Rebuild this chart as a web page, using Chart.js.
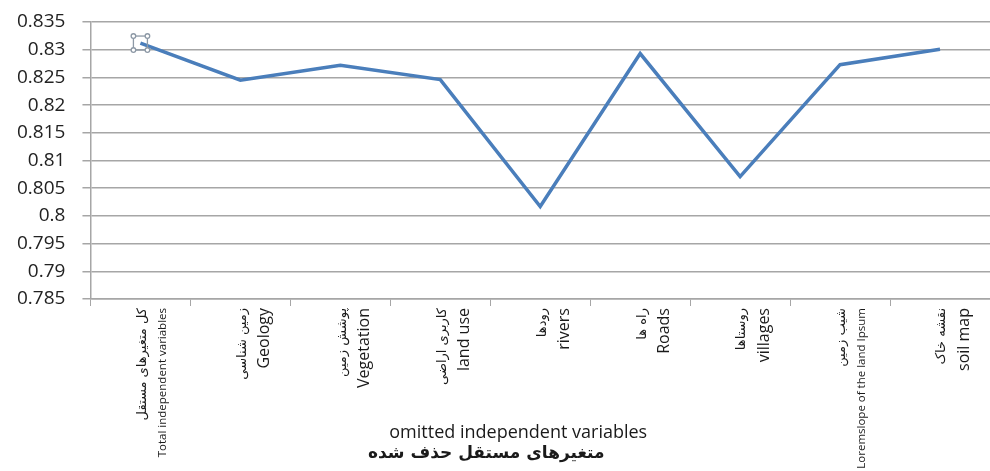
<!DOCTYPE html>
<html>
<head>
<meta charset="utf-8">
<script src="https://cdn.jsdelivr.net/npm/chart.js@4/dist/chart.umd.min.js"></script>
<style>
  html, body { margin: 0; padding: 0; background: #fff; }
  #wrap { width: 990px; height: 471px; }
</style>
</head>
<body>
<div id="wrap"><canvas id="myChart"></canvas></div>
<script>
// labels: persian line + english line
const persianLabels = [
  "کل متغیرهای مستقل",
  "زمین شناسی",
  "پوشش زمین",
  "کاربری اراضی",
  "رودها",
  "راه ها",
  "روستاها",
  "شیب زمین",
  "نقشه خاک",
];
const englishLabels = [
  "Total independent variables",
  "Geology",
  "Vegetation",
  "land use",
  "rivers",
  "Roads",
  "villages",
  "Loremslope of the land Ipsum",
  "soil map",
];
const values = [0.8312, 0.8245, 0.8272, 0.8246, 0.8017, 0.8293, 0.8071, 0.8273, 0.8301];
const yTicks = [0.785, 0.79, 0.795, 0.8, 0.805, 0.81, 0.815, 0.82, 0.825, 0.83, 0.835];
const xTitle = "omitted independent variables";
const xTitleFa = "متغیرهای مستقل حذف شده";

// long english labels were set smaller in the original
const smallEnglish = [0, 7];

const labelPlugin = {
  id: "labelPlugin",
  afterDraw(chart) {
    const ctx = chart.ctx;
    const xs = chart.scales.x;
    const area = chart.chartArea;
    const top = xs.top + 9;
    ctx.save();
    ctx.fillStyle = "#1a1a1a";
    ctx.textBaseline = "middle";
    persianLabels.forEach((fa, i) => {
      const x = xs.getPixelForValue(i);
      const small = smallEnglish.includes(i);
      ctx.save();
      ctx.translate(x + 2, top);
      ctx.rotate(-Math.PI / 2);
      ctx.textAlign = "right";
      ctx.font = "13px 'DejaVu Sans'";
      ctx.fillText(fa, 0, 0);
      ctx.font = small ? "11.5px 'Open Sans'" : "16px 'Open Sans'";
      ctx.fillText(englishLabels[i], 0, small ? 20 : 22);
      ctx.restore();
    });
    const cx = (area.left + area.right) / 2;
    ctx.textAlign = "center";
    ctx.font = "18px 'Open Sans'";
    ctx.fillText(xTitle, cx - 22, xs.top + 134);
    ctx.font = "bold 17px 'DejaVu Sans'";
    ctx.fillText(xTitleFa, cx - 54, xs.top + 155);

    // selection handles round the first point, as in the original screenshot
    const pt = chart.getDatasetMeta(0).data[0];
    ctx.strokeStyle = "#8d99a6";
    ctx.fillStyle = "#fff";
    ctx.lineWidth = 1.3;
    const h = 7;
    ctx.strokeRect(pt.x - h, pt.y - h, 2 * h, 2 * h);
    [[-h, -h], [h, -h], [-h, h], [h, h]].forEach(([dx, dy]) => {
      ctx.beginPath();
      ctx.arc(pt.x + dx, pt.y + dy, 2.3, 0, Math.PI * 2);
      ctx.fill();
      ctx.stroke();
    });
    ctx.restore();
  },
};

const ctx = document.getElementById("myChart").getContext("2d");
window.myChart = new Chart(ctx, {
  type: "line",
  data: {
    labels: englishLabels,
    datasets: [
      {
        data: values,
        borderColor: "#4a7ebb",
        borderWidth: 3.5,
        tension: 0,
        pointRadius: 0,
      },
    ],
  },
  options: {
    responsive: true,
    maintainAspectRatio: false,
    animation: false,
    layout: { padding: { top: 22, left: 0, right: 0, bottom: 0 } },
    plugins: {
      legend: { display: false },
      tooltip: { enabled: false },
    },
    scales: {
      x: {
        type: "category",
        offset: true,
        grid: {
          offset: true,
          drawOnChartArea: false,
          color: "#a6a6a6",
          tickLength: 7,
        },
        border: { color: "#a6a6a6", width: 1.5 },
        ticks: { display: false },
        afterFit: (scale) => {
          scale.height = 172;
        },
      },
      y: {
        min: 0.785,
        max: 0.835,
        afterBuildTicks: (scale) => {
          scale.ticks = yTicks.map((v) => ({ value: v }));
        },
        afterFit: (scale) => {
          scale.paddingTop = 0;
          scale.paddingBottom = 0;
        },
        grid: { color: "#a6a6a6", lineWidth: 1.5, tickLength: 8 },
        border: { color: "#a6a6a6", width: 1.5 },
        ticks: {
          color: "#222",
          font: { family: "'Open Sans'", size: 19 },
          padding: 17,
          callback: (v) => String(parseFloat(Number(v).toFixed(3))),
        },
      },
    },
  },
  plugins: [labelPlugin],
});
</script>
</body>
</html>
